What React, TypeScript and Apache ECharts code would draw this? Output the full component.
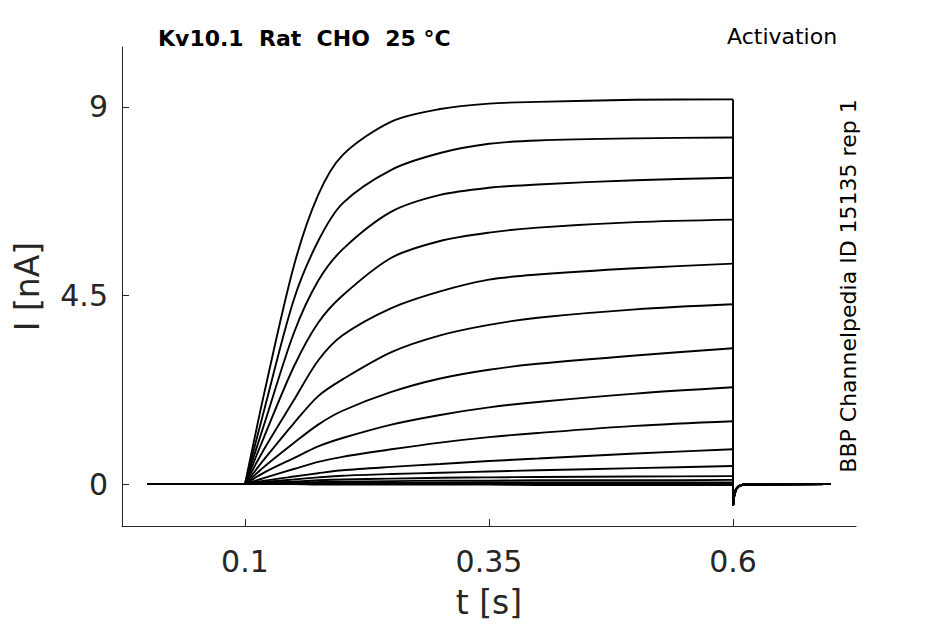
import React, { useEffect, useRef } from "react";
import * as echarts from "echarts";

// time grid (s)
const baseTimes = [0, 0.1];
const baseValues = [0, 0];
const stepTimes = [0.1, 0.12, 0.15, 0.175, 0.2, 0.25, 0.3, 0.35, 0.4, 0.5, 0.6];
const tailTimes = [0.6, 0.601, 0.603, 0.606, 0.61, 0.7];
const tailValues = [-0.52, -0.3, -0.12, -0.05, -0.01, 0];

// currents (nA) at stepTimes, one array per voltage step
const trace1 = [0, 2.2, 5.2, 6.9, 7.85, 8.65, 8.95, 9.08, 9.12, 9.17, 9.18];
const trace2 = [0, 1.8, 4.4, 5.8, 6.7, 7.5, 7.9, 8.12, 8.2, 8.25, 8.27];
const trace3 = [0, 1.45, 3.6, 4.85, 5.6, 6.5, 6.9, 7.07, 7.15, 7.25, 7.31];
const trace4 = [0, 1.15, 2.8, 3.85, 4.5, 5.4, 5.8, 6.0, 6.12, 6.25, 6.31];
const trace5 = [0, 0.85, 2.0, 2.95, 3.55, 4.2, 4.6, 4.88, 5.0, 5.15, 5.26];
const trace6 = [0, 0.6, 1.45, 2.1, 2.5, 3.15, 3.55, 3.8, 3.97, 4.17, 4.29];
const trace7 = [0, 0.42, 0.98, 1.42, 1.75, 2.2, 2.52, 2.73, 2.87, 3.07, 3.24];
const trace8 = [0, 0.28, 0.62, 0.9, 1.1, 1.42, 1.65, 1.83, 1.96, 2.16, 2.31];
const trace9 = [0, 0.15, 0.36, 0.53, 0.65, 0.83, 0.99, 1.12, 1.22, 1.39, 1.5];
const trace10 = [0, 0.08, 0.18, 0.26, 0.33, 0.41, 0.48, 0.55, 0.61, 0.73, 0.83];
const trace11 = [0, 0.05, 0.11, 0.16, 0.2, 0.24, 0.27, 0.3, 0.33, 0.38, 0.43];
const trace12 = [0, 0.03, 0.06, 0.09, 0.11, 0.13, 0.15, 0.16, 0.17, 0.18, 0.19];
const trace13 = [0, 0.02, 0.04, 0.05, 0.06, 0.07, 0.08, 0.08, 0.09, 0.09, 0.1];
const trace14 = [0, 0.01, 0.02, 0.02, 0.03, 0.03, 0.03, 0.04, 0.04, 0.04, 0.04];
const trace15 = [0, 0, 0.01, 0.01, 0.01, 0.01, 0.02, 0.02, 0.02, 0.02, 0.02];
const trace16 = [0, 0, 0, -0.01, -0.01, -0.01, -0.01, -0.01, -0.02, -0.02, -0.02];

const traces = [
  trace1, trace2, trace3, trace4, trace5, trace6, trace7, trace8,
  trace9, trace10, trace11, trace12, trace13, trace14, trace15, trace16,
];

const xTicks = [0.1, 0.35, 0.6];
const yTicks = [0, 4.5, 9];

const titleLeft = "Kv10.1  Rat  CHO  25 °C";
const titleRight = "Activation";
const sideNote = "BBP Channelpedia ID 15135 rep 1";

const AXIS = "#262626";
const FONT = "DejaVu Sans";
const LINE = { color: "#000", width: 1.9 };

export default function App() {
  const ref = useRef<HTMLDivElement>(null);

  useEffect(() => {
    document.body.style.margin = "0";
    if (!ref.current) return;
    const chart = echarts.init(ref.current, undefined, { renderer: "svg" });

    const series: any[] = [];
    traces.forEach((tr, i) => {
      const base = baseTimes.map((t, k) => [t, baseValues[k]]);
      const pulse = stepTimes.map((t, k) => [t, tr[k]]);
      const tail = [[0.6, tr[tr.length - 1]]].concat(tailTimes.map((t, k) => [t, tailValues[k]]));
      const common = { type: "line", showSymbol: false, symbol: "none", lineStyle: LINE, z: 2, silent: true };
      series.push({ ...common, name: "base" + (i + 1), data: base });
      series.push({ ...common, name: "step" + (i + 1), data: pulse, smooth: 0.3 });
      series.push({ ...common, name: "tail" + (i + 1), data: tail });
    });

    chart.setOption({
      animation: false,
      grid: { left: 122, right: 89, top: 47, bottom: 97 },
      xAxis: {
        type: "value",
        min: -0.026,
        max: 0.726,
        name: "t [s]",
        nameLocation: "middle",
        nameGap: 60,
        nameTextStyle: { fontFamily: FONT, fontSize: 33, color: AXIS },
        axisLine: { show: true, onZero: false, lineStyle: { color: AXIS, width: 1 } },
        axisTick: { show: true, inside: true, length: 7, customValues: xTicks, lineStyle: { color: AXIS } },
        axisLabel: {
          customValues: xTicks,
          formatter: (v: number) => String(v),
          fontFamily: FONT,
          fontSize: 30,
          color: AXIS,
          margin: 20,
        },
        splitLine: { show: false },
      },
      yAxis: {
        type: "value",
        min: -1,
        max: 10.43,
        name: "I [nA]",
        nameLocation: "middle",
        nameGap: 78,
        nameRotate: 90,
        nameTextStyle: { fontFamily: FONT, fontSize: 33, color: AXIS },
        axisLine: { show: true, onZero: false, lineStyle: { color: AXIS, width: 1 } },
        axisTick: { show: true, inside: true, length: 7, customValues: yTicks, lineStyle: { color: AXIS } },
        axisLabel: {
          customValues: yTicks,
          formatter: (v: number) => String(v),
          fontFamily: FONT,
          fontSize: 30,
          color: AXIS,
          margin: 14,
        },
        splitLine: { show: false },
      },
      graphic: [
        {
          type: "text",
          left: 158,
          top: 27,
          style: { text: titleLeft, fontFamily: FONT, fontSize: 22, fontWeight: "bold", fill: "#000" },
        },
        {
          type: "text",
          left: 727,
          top: 25,
          style: { text: titleRight, fontFamily: FONT, fontSize: 22, fill: "#000" },
        },
        {
          type: "text",
          x: 848,
          y: 286,
          rotation: Math.PI / 2,
          style: {
            text: sideNote,
            fontFamily: FONT,
            fontSize: 22,
            fill: "#000",
            align: "center",
            verticalAlign: "middle",
          },
        },
      ],
      series,
    });

    return () => chart.dispose();
  }, []);

  return <div ref={ref} style={{ width: 945, height: 624 }} />;
}
